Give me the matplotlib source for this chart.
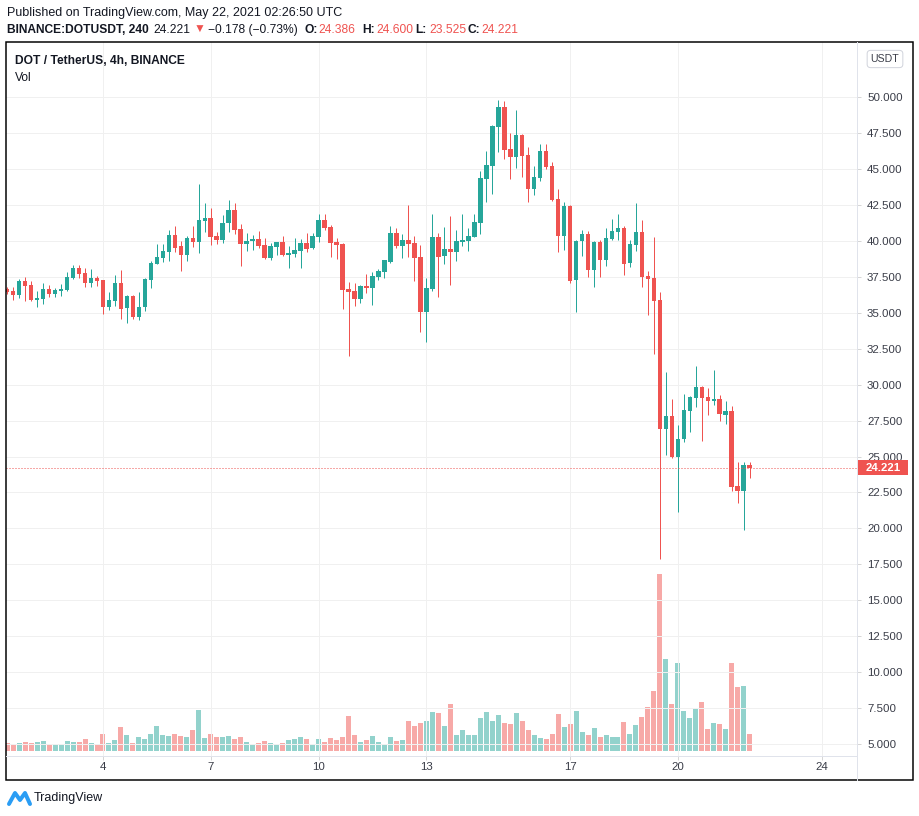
import matplotlib
matplotlib.use("Agg")
import matplotlib.pyplot as plt
import matplotlib.transforms as mtransforms
from matplotlib.patches import Rectangle, FancyBboxPatch
from matplotlib.lines import Line2D
import numpy as np

# ---------------- data (DOT/USDT 4h) ----------------
opens = [36.65, 36.51, 36.25, 37.20, 36.93, 35.91, 35.95, 36.65, 36.32, 36.53,
         36.58, 37.44, 38.11, 37.76, 37.09, 37.41, 37.27, 35.42, 35.84, 37.07,
         35.33, 36.16, 34.72, 35.40, 37.30, 38.41, 38.83, 39.25, 40.41, 39.64,
         39.04, 40.20, 39.92, 41.38, 41.59, 40.34, 40.06, 41.24, 42.14, 40.82,
         39.80, 39.99, 40.13, 39.71, 38.81, 39.59, 39.92, 39.02, 39.09, 39.29,
         39.85, 39.50, 40.27, 41.45, 40.96, 39.92, 39.78, 36.65, 36.51, 35.96,
         36.86, 36.72, 37.48, 37.83, 38.52, 40.54, 39.64, 40.05, 39.84, 38.87,
         35.05, 36.65, 40.26, 38.94, 39.43, 39.22, 39.91, 39.98, 40.26, 41.26,
         44.32, 45.23, 47.94, 49.31, 46.39, 45.85, 47.36, 45.97, 43.63, 44.39,
         46.25, 45.20, 42.91, 40.36, 42.42, 37.30, 39.99, 40.48, 37.97, 39.92,
         38.69, 40.13, 40.62, 40.90, 38.46, 39.71, 40.62, 37.56, 37.42, 35.89,
         26.92, 27.82, 24.96, 26.22, 28.16, 29.07, 29.83, 29.14, 28.86, 29.00,
         27.89, 28.16, 22.95, 22.60, 24.386]
highs = [36.80, 36.79, 37.34, 37.48, 37.20, 36.51, 37.07, 36.93, 36.72, 37.00,
         37.83, 38.34, 38.32, 38.11, 38.04, 37.55, 37.30, 36.44, 37.62, 37.97,
         36.23, 36.23, 36.44, 37.44, 38.60, 39.78, 39.78, 40.75, 41.03, 39.99,
         40.31, 41.03, 43.95, 42.63, 42.28, 40.61, 41.80, 42.84, 42.63, 41.17,
         40.54, 40.41, 40.68, 40.20, 39.85, 39.92, 40.34, 39.64, 40.20, 40.13,
         40.55, 40.55, 41.87, 41.87, 41.10, 40.20, 39.85, 37.14, 37.07, 36.93,
         37.69, 37.83, 38.04, 38.66, 41.03, 40.89, 40.47, 42.49, 40.33, 39.71,
         37.41, 41.86, 40.54, 40.96, 41.72, 40.75, 41.86, 40.89, 41.86, 44.83,
         46.25, 48.05, 49.79, 49.72, 47.50, 49.10, 47.43, 46.52, 45.23, 46.73,
         46.73, 45.48, 43.60, 42.70, 42.51, 40.08, 40.76, 40.69, 39.99, 40.06,
         40.90, 41.52, 41.87, 41.03, 40.06, 42.63, 41.45, 37.90, 40.27, 36.44,
         30.88, 29.00, 27.19, 29.35, 29.21, 31.29, 29.90, 29.76, 31.01, 29.28,
         28.86, 28.51, 24.62, 24.62, 24.600]
lows = [36.30, 35.91, 36.05, 35.81, 35.84, 35.42, 35.58, 36.11, 36.11, 36.18,
        36.53, 37.37, 37.44, 36.81, 36.81, 36.86, 34.93, 35.21, 35.49, 34.56,
        34.31, 34.58, 34.50, 35.10, 36.74, 38.41, 38.50, 38.62, 39.25, 37.93,
        38.62, 39.59, 39.18, 40.61, 39.71, 39.78, 39.85, 40.61, 40.48, 38.25,
        39.29, 39.36, 39.52, 38.74, 38.67, 39.02, 38.95, 38.11, 38.88, 38.11,
        39.22, 39.43, 39.92, 40.75, 38.88, 38.74, 35.26, 31.99, 35.47, 35.68,
        36.37, 35.53, 37.27, 37.41, 38.45, 39.50, 38.80, 38.87, 37.20, 33.66,
        32.96, 36.51, 36.09, 38.38, 36.92, 38.59, 39.64, 39.29, 40.26, 40.50,
        42.72, 43.28, 46.20, 45.71, 44.32, 45.09, 44.46, 42.72, 43.21, 44.18,
        45.02, 42.79, 39.25, 39.38, 37.09, 35.07, 38.95, 37.49, 36.79, 37.49,
        38.25, 40.06, 40.06, 37.63, 38.18, 39.30, 36.79, 34.85, 32.13, 17.88,
        25.11, 24.89, 21.14, 26.01, 26.70, 28.44, 26.08, 27.89, 28.58, 27.47,
        27.26, 22.60, 21.77, 19.89, 23.525]
closes = [36.46, 36.25, 37.20, 36.88, 35.91, 36.02, 36.65, 36.32, 36.58, 36.65,
          37.48, 38.11, 37.71, 37.09, 37.41, 37.23, 35.42, 35.88, 37.07, 35.26,
          36.16, 34.72, 35.40, 37.35, 38.46, 38.88, 39.29, 40.41, 39.52, 39.04,
          40.20, 39.92, 41.45, 41.59, 40.27, 40.06, 41.24, 42.14, 40.75, 39.80,
          39.99, 40.13, 39.66, 38.81, 39.64, 39.92, 39.02, 39.16, 39.36, 39.85,
          39.43, 40.34, 41.45, 40.89, 39.85, 39.71, 36.58, 36.44, 35.96, 36.86,
          36.72, 37.55, 37.90, 38.66, 40.54, 39.64, 40.05, 39.78, 38.80, 35.05,
          36.72, 40.26, 38.87, 39.43, 39.22, 39.98, 40.05, 40.33, 41.30, 44.37,
          45.27, 47.98, 49.31, 46.34, 45.85, 47.36, 45.92, 43.63, 44.44, 46.25,
          45.16, 42.86, 40.36, 42.42, 37.23, 40.01, 40.48, 37.97, 39.92, 38.69,
          40.20, 40.69, 40.90, 38.39, 39.78, 40.62, 37.49, 37.37, 35.82, 26.92,
          27.82, 24.96, 26.22, 28.23, 29.14, 29.83, 29.07, 28.86, 29.00, 27.96,
          28.16, 22.88, 22.60, 24.41, 24.221]
# volume (relative units)
volumes = [24, 21, 24, 27, 24, 27, 30, 21, 18, 21, 30, 27, 27, 36, 24, 21, 51, 24, 33, 72,
           48, 24, 42, 36, 51, 75, 48, 45, 51, 45, 42, 63, 123, 39, 51, 42, 42, 45, 36, 42,
           27, 21, 24, 30, 24, 18, 24, 33, 36, 42, 36, 21, 36, 27, 39, 33, 42, 105, 48, 27,
           33, 45, 27, 21, 42, 30, 33, 90, 75, 84, 90, 117, 114, 75, 141, 48, 63, 48, 48, 99,
           117, 90, 108, 84, 81, 114, 90, 63, 48, 39, 36, 51, 111, 72, 81, 120, 57, 48, 69, 42,
           48, 42, 42, 87, 51, 78, 102, 132, 180, 531, 276, 141, 264, 120, 99, 129, 147, 66, 84, 81,
           66, 264, 192, 195, 51]

first_candle_day = 1 + 8 / 24          # May 1, 08:00 UTC
bar_hours = 4
date_ticks = [4, 7, 10, 13, 17, 20, 24]
date_labels = ["4", "7", "10", "13", "17", "20", "24"]
price_ticks = list(np.arange(5.0, 50.01, 2.5))
last_price = 24.221

# ---------------- layout ----------------
W, H, DPI = 920, 816, 100
PX = 72 / DPI
fig = plt.figure(figsize=(W / DPI, H / DPI), dpi=DPI)
fig.patch.set_facecolor("white")
FAM = ["Liberation Sans", "DejaVu Sans"]
plt.rcParams["font.family"] = FAM

L, R, T, B = 6, 857, 42, 756
rect = [L / W, 1 - B / H, (R - L) / W, (B - T) / H]
ax_v = fig.add_axes(rect)
ax = fig.add_axes(rect)
ax.patch.set_alpha(0)

px_per_day = 35.93
x_of_4 = 103
xlim = (4 - (x_of_4 - L) / px_per_day, 4 + (R - x_of_4) / px_per_day)
px_per_unit = 14.385
y_of_50 = 96.9
ylim = (50 - (B - y_of_50) / px_per_unit, 50 + (y_of_50 - T) / px_per_unit)

n = len(opens)
t = first_candle_day + np.arange(n) * bar_hours / 24.0
o = np.array(opens); h = np.array(highs); l = np.array(lows); c = np.array(closes)
up = c >= o
UP, DN = "#26a69a", "#ef5350"
VUP, VDN = "#92d2cc", "#f7a9a7"

# volume pane (own scale, bottom of chart)
vol_base_y = 751
vol_per_px = 3.0
ax_v.bar(t, volumes, width=5.0 / px_per_day, color=[VUP if u else VDN for u in up],
         linewidth=0)
ax_v.set_xlim(xlim)
ax_v.set_ylim(-(B - vol_base_y) * vol_per_px, (vol_base_y - T) * vol_per_px)
ax_v.set_xticks([]); ax_v.set_yticks([])
for s in ax_v.spines.values():
    s.set_visible(False)

# candles
cols = [UP if u else DN for u in up]
ax.vlines(t, l, h, colors=cols, linewidth=1.0 * PX, zorder=3)
body_bottom = np.minimum(o, c)
body_h = np.maximum(np.abs(c - o), 1.0 / px_per_unit)
ax.bar(t, body_h, bottom=body_bottom, width=4.6 / px_per_day, color=cols,
       linewidth=0, zorder=4)

ax.set_xlim(xlim)
ax.set_ylim(ylim)
ax.set_xticks(date_ticks)
ax.set_xticklabels(date_labels)
ax.set_yticks(price_ticks)
ax.set_yticklabels([f"{v:.3f}" for v in price_ticks])
ax.yaxis.tick_right()
ax.tick_params(axis="y", length=4 * PX, width=1 * PX, color="#d6d6d6", pad=6 * PX,
               labelsize=11.5 * PX, labelcolor="#3a3d48")
ax.tick_params(axis="x", length=4 * PX, width=1 * PX, color="#d6d6d6", pad=2 * PX,
               labelsize=11.5 * PX, labelcolor="#3a3d48")
ax.grid(True, color="#f0f0f0", linewidth=1 * PX)
ax.set_axisbelow(True)
for s in ax.spines.values():
    s.set_visible(False)

# last price line and tag
ax.axhline(last_price, color=DN, linewidth=1 * PX, linestyle=(0, (1, 2)), zorder=5)
bt = mtransforms.blended_transform_factory(fig.transFigure, ax.transData)
tag_h = 15 / px_per_unit
ax.add_patch(Rectangle((858 / W, last_price - tag_h / 2), 50 / W, tag_h, transform=bt,
                       facecolor=DN, edgecolor="none", clip_on=False, zorder=10))
ax.text(883 / W, last_price, f"{last_price:.3f}", transform=bt, ha="center",
        va="center", color="white", fontsize=11.5 * PX, fontweight="bold",
        clip_on=False, zorder=11)

# frame lines
def fline(x0, y0, x1, y1, color, lw):
    fig.add_artist(Line2D([x0 / W, x1 / W], [1 - y0 / H, 1 - y1 / H], color=color,
                          linewidth=lw * PX, transform=fig.transFigure))

fline(R, T, R, 780, "#e0e3eb", 1)
fline(L, B, R, B, "#e0e3eb", 1)
fig.add_artist(Rectangle((L / W, 1 - 780 / H), (913 - L) / W, (780 - T) / H,
                         transform=fig.transFigure, fill=False, edgecolor="black",
                         linewidth=1.5 * PX))

# USDT button
fig.add_artist(FancyBboxPatch((869 / W, 1 - 66 / H), 32 / W, 14 / H,
                              boxstyle="round,pad=0.002,rounding_size=0.004",
                              transform=fig.transFigure, facecolor="white",
                              edgecolor="#d1d4dc", linewidth=1 * PX))
fig.text(885 / W, 1 - 59 / H, "USDT", ha="center", va="center", fontsize=10.5 * PX,
         color="#3a3d48")

# header
DARK = "#131722"
fig.text(7 / W, 1 - 13 / H, "Published on TradingView.com, May 22, 2021 02:26:50 UTC",
         ha="left", va="center", fontsize=12.5 * PX, color=DARK)
pieces = [
    (7, "BINANCE:DOTUSDT, 240", "bold", DARK),
    (153, "24.221", "normal", DARK),
    (194, "\u25bc", "normal", DN),
    (208, "\u22120.178 (\u22120.73%)", "normal", DARK),
    (305, "O:", "bold", DARK),
    (318, "24.386", "normal", DN),
    (362, "H:", "bold", DARK),
    (376, "24.600", "normal", DN),
    (415, "L:", "bold", DARK),
    (429, "23.525", "normal", DN),
    (468, "C:", "bold", DARK),
    (481, "24.221", "normal", DN),
]
for x, s, wgt, col in pieces:
    fig.text(x / W, 1 - 30 / H, s, ha="left", va="center", fontsize=12 * PX,
             fontweight=wgt, color=col, family=FAM)

fig.text(15 / W, 1 - 61 / H, "DOT / TetherUS, 4h, BINANCE", ha="left", va="center",
         fontsize=12 * PX, fontweight="bold", color=DARK)
fig.text(15 / W, 1 - 78 / H, "Vol", ha="left", va="center", fontsize=12 * PX, color=DARK)

# TradingView logo
fig.add_artist(Line2D([9 / W, 15 / W, 20 / W, 25 / W, 30 / W],
                      [1 - 804 / H, 1 - 793 / H, 1 - 800 / H, 1 - 793 / H, 1 - 804 / H],
                      color="#2a9df4", linewidth=4 * PX, solid_joinstyle="round",
                      solid_capstyle="round", transform=fig.transFigure))
fig.text(34 / W, 1 - 798 / H, "TradingView", ha="left", va="center",
         fontsize=12.5 * PX, color=DARK)

fig.savefig("out.png", dpi=DPI)
